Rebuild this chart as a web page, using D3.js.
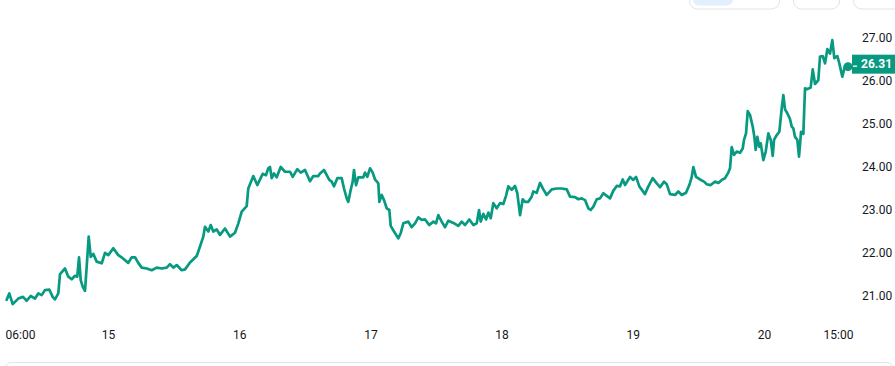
<!DOCTYPE html>
<html><head><meta charset="utf-8">
<script src="https://cdn.jsdelivr.net/npm/d3@7"></script>
<style>body{margin:0;background:#fff;overflow:hidden;} svg{display:block;font-family:Roboto,sans-serif;}</style>
</head><body><svg id="c" width="895" height="366"></svg>
<script>
// hours since the 14th 00:00
const hours = [5.47,5.94,6.57,7.59,8.45,9.13,9.86,10.65,11.25,11.87,12.48,13.26,13.88,14.30,14.91,15.22,16.13,16.74,17.36,17.96,18.38,18.70,19.01,19.37,19.79,20.10,20.47,20.84,21.31,21.93,22.85,23.45,24.05,24.97,25.88,26.69,27.71,28.34,28.94,29.54,30.16,31.08,31.99,32.91,33.82,34.74,35.34,35.95,36.57,37.48,38.09,39.00,40.23,40.83,41.43,41.74,42.35,42.79,43.26,43.88,44.49,45.40,46.32,47.23,47.84,48.46,49.37,49.66,50.58,51.31,52.30,52.90,53.32,53.63,53.95,54.37,54.86,55.59,56.38,57.29,57.79,58.63,59.25,60.04,60.95,61.56,62.47,62.78,63.51,64.48,64.92,65.34,65.95,66.75,67.17,67.67,67.96,68.40,68.76,69.00,69.37,69.79,70.70,71.01,71.43,71.93,72.42,72.84,73.45,73.63,74.07,74.49,74.98,75.46,75.71,76.32,77.10,77.54,78.02,78.93,79.55,80.16,80.76,81.38,81.99,82.78,83.51,84.00,84.42,85.04,85.65,86.25,87.17,88.08,88.70,89.31,90.09,90.83,91.45,91.87,92.18,92.65,93.15,93.57,94.01,94.48,95.10,95.71,96.31,96.80,97.23,97.85,98.45,98.87,99.37,99.86,100.28,100.88,101.50,101.80,102.42,103.02,103.63,104.25,105.17,106.08,106.99,107.91,108.51,109.43,110.03,110.65,111.26,111.86,112.30,112.78,113.40,114.00,114.61,115.23,115.83,116.44,117.06,117.66,118.15,118.58,119.49,120.09,120.59,121.19,122.23,122.84,123.64,124.37,124.98,125.71,126.20,126.80,127.72,128.32,128.95,129.73,130.34,130.78,131.07,131.56,132.29,133.02,133.52,134.25,135.04,135.64,136.26,136.87,137.47,137.78,138.09,138.51,139.01,139.61,140.10,140.34,140.71,141.02,141.44,141.93,142.23,142.48,142.78,143.14,143.40,143.87,144.31,144.79,145.23,145.59,145.83,146.32,146.80,147.24,147.53,147.84,148.26,148.76,149.07,149.36,149.67,150.09,150.40,150.77,151.19,151.50,151.92,152.54,152.91,153.33,153.93,154.24,154.74,155.16,155.58,156.07,156.49,156.86,157.41,157.77,158.32,158.81,159.36];
const prices = [20.91,21.06,20.81,20.94,20.98,20.89,21.00,20.94,21.06,21.02,21.14,21.15,20.98,20.92,21.06,21.51,21.64,21.45,21.39,21.47,21.45,21.90,21.37,21.22,21.12,21.68,22.38,21.91,21.98,21.80,21.76,22.00,21.95,22.11,21.95,21.88,21.77,21.90,21.90,21.77,21.66,21.64,21.60,21.66,21.64,21.66,21.74,21.66,21.72,21.60,21.62,21.78,21.93,22.15,22.38,22.61,22.50,22.65,22.50,22.55,22.42,22.57,22.38,22.47,22.69,22.96,23.09,23.50,23.79,23.58,23.84,23.81,23.97,24.00,23.74,23.85,23.76,24.00,23.89,23.89,23.77,23.95,23.87,23.93,23.67,23.79,23.79,23.85,23.93,23.70,23.66,23.55,23.74,23.74,23.50,23.27,23.19,23.47,23.66,23.93,23.58,23.76,23.76,23.87,23.77,23.97,23.87,23.71,23.62,23.19,23.35,23.23,23.04,23.00,22.63,22.50,22.34,22.46,22.69,22.73,22.60,22.69,22.83,22.77,22.78,22.65,22.73,22.69,22.88,22.73,22.60,22.75,22.70,22.63,22.73,22.65,22.78,22.65,22.69,23.00,22.73,22.91,22.78,22.94,22.81,23.16,23.04,23.16,23.14,23.33,23.55,23.47,23.56,23.39,22.88,23.25,23.19,23.19,23.31,23.43,23.40,23.63,23.48,23.35,23.48,23.50,23.50,23.48,23.31,23.30,23.25,23.27,23.23,23.04,23.00,23.08,23.25,23.27,23.39,23.33,23.27,23.45,23.56,23.55,23.71,23.58,23.77,23.70,23.77,23.55,23.37,23.55,23.74,23.62,23.53,23.66,23.60,23.37,23.35,23.43,23.35,23.40,23.58,23.77,24.00,23.77,23.71,23.66,23.60,23.58,23.66,23.63,23.70,23.74,23.87,23.97,24.46,24.28,24.36,24.33,24.43,24.63,24.78,25.30,25.21,24.94,24.70,24.40,24.70,24.47,24.55,24.16,24.36,24.78,24.63,24.26,24.63,24.74,24.82,25.37,25.67,25.34,25.25,25.11,24.94,24.90,24.70,24.63,24.24,24.82,24.77,25.83,25.81,25.85,26.27,25.93,26.02,26.57,26.58,26.41,26.74,26.64,26.95,26.53,26.58,26.41,26.10,26.35,26.31];
const yTicks = [21, 22, 23, 24, 25, 26, 27];
const xTickHours = [6, 24, 48, 72, 96, 120, 144, 159];
const xTickLabels = ["06:00", "15", "16", "17", "18", "19", "20", "15:00"];
const lastPrice = 26.31;

const GREEN = "#089981";
const base = new Date(2024, 0, 14).getTime();
const toDate = h => new Date(base + h * 3600e3);
const data = hours.map((h, i) => ({ t: toDate(h), v: prices[i] }));

const svg = d3.select("#c");
const x = d3.scaleTime().domain([data[0].t, data[data.length - 1].t]).range([6.7, 848]);
const y = d3.scaleLinear().domain([21, 27]).range([296, 38]);

// top toolbar buttons (decorative, partially cut off)
const tb = svg.append("g");
tb.append("rect").attr("x", 689.5).attr("y", -20).attr("width", 90).attr("height", 29).attr("rx", 8)
  .attr("fill", "#fff").attr("stroke", "#e0e3eb");
tb.append("rect").attr("x", 693).attr("y", -20).attr("width", 40).attr("height", 25.5).attr("rx", 6)
  .attr("fill", "#e3effd");
tb.append("rect").attr("x", 793.5).attr("y", -20).attr("width", 46).attr("height", 29).attr("rx", 8)
  .attr("fill", "#fff").attr("stroke", "#e0e3eb");
tb.append("rect").attr("x", 853.5).attr("y", -20).attr("width", 60).attr("height", 29).attr("rx", 8)
  .attr("fill", "#fff").attr("stroke", "#e0e3eb");

// bottom panel border
svg.append("rect").attr("x", 4.5).attr("y", 362.5).attr("width", 889).attr("height", 40).attr("rx", 7)
  .attr("fill", "none").attr("stroke", "#e0e3eb");

// line
svg.append("path").datum(data)
  .attr("fill", "none").attr("stroke", GREEN).attr("stroke-width", 2.7)
  .attr("stroke-linejoin", "round").attr("stroke-linecap", "round")
  .attr("d", d3.line().x(d => x(d.t)).y(d => y(d.v)));

// end dot
const last = data[data.length - 1];
svg.append("circle").attr("cx", x(last.t)).attr("cy", y(last.v) - 1).attr("r", 4.5).attr("fill", GREEN);

// x axis
const xAxis = svg.append("g").attr("transform", "translate(0,327)")
  .call(d3.axisBottom(x).tickValues(xTickHours.map(toDate)).tickFormat((t, i) => xTickLabels[i]).tickSize(0).tickPadding(3));
xAxis.select(".domain").remove();
xAxis.selectAll("text").attr("font-size", 12).attr("font-family", "Roboto, sans-serif").attr("fill", "#131722");
xAxis.selectAll(".tick").filter((d, i) => i === 0).select("text").attr("text-anchor", "start").attr("dx", -4.5);
xAxis.selectAll(".tick").filter((d, i) => i === xTickHours.length - 1).select("text").attr("dx", -8);

// y axis
const yAxis = svg.append("g").attr("transform", "translate(862,0)")
  .call(d3.axisRight(y).tickValues(yTicks).tickFormat(d3.format(".2f")).tickSize(0).tickPadding(0));
yAxis.select(".domain").remove();
yAxis.selectAll("text").attr("font-size", 12).attr("font-family", "Roboto, sans-serif").attr("fill", "#131722");

// last price badge
const yl = y(lastPrice);
const badge = svg.append("g");
badge.append("rect").attr("x", 852).attr("y", yl - 13).attr("width", 50).attr("height", 19).attr("fill", GREEN);
badge.append("line").attr("x1", 853).attr("x2", 857).attr("y1", yl - 1.5).attr("y2", yl - 1.5)
  .attr("stroke", "#fff").attr("stroke-width", 1.3);
badge.append("text").attr("x", 861).attr("y", yl - 3.5).attr("dy", "0.35em")
  .attr("font-size", 12).attr("font-weight", "bold").attr("fill", "#fff").text(lastPrice.toFixed(2));
</script></body></html>
